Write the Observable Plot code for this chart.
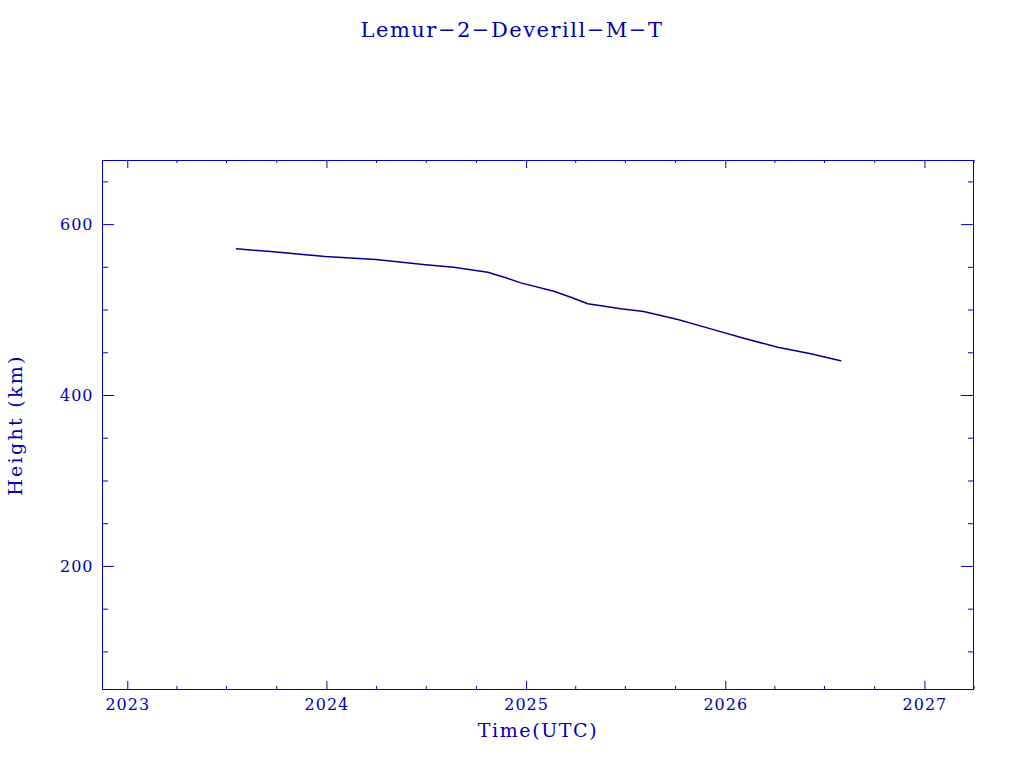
<!DOCTYPE html>
<html><head><meta charset="utf-8">
<script src="https://cdn.jsdelivr.net/npm/d3@7"></script>
<script src="https://cdn.jsdelivr.net/npm/@observablehq/plot@0.6"></script>
<style>
body{margin:0;background:#fff;}
#wrap{position:relative;width:1024px;height:768px;}
#title{position:absolute;top:18px;left:0;width:1024px;text-align:center;font-family:"DejaVu Serif";font-size:21px;line-height:normal;letter-spacing:1.5px;color:#0000b0;}
svg text{letter-spacing:1px;}
</style></head><body>
<div id="wrap"><div id="title">Lemur−2−Deverill−M−T</div></div>
<script>
const titleText = "Lemur−2−Deverill−M−T";
const xLabel = "Time(UTC)";
const yLabel = "Height (km)";

// series (decimal year, height in km)
const years   = [2023.546, 2023.717, 2023.992, 2024.245, 2024.494, 2024.635, 2024.805, 2024.888, 2024.971, 2025.137, 2025.222, 2025.307, 2025.473, 2025.588, 2025.759, 2025.925, 2026.090, 2026.261, 2026.427, 2026.577];
const heights = [571.6,    568.4,    562.6,    559.1,    552.9,    550.1,    544.2,    538.4,    531.8,    522.0,    515.0,    507.3,    501.4,    498.2,    488.9,    478.0,    467.0,    456.5,    448.8,    440.6];

// ticks
const xMajorYears = [2023, 2024, 2025, 2026, 2027];
const yMajor = [200, 400, 600];
const yMinor = [100, 150, 250, 300, 350, 450, 500, 550, 650];
const xDomainYears = [2022.873, 2027.244];
const yDomain = [56, 675];

const frameColor = "#0000c0";
const lineColor = "#00008c";

const toDate = y => { const f = Math.floor(y); const a = Date.UTC(f,0,1), b = Date.UTC(f+1,0,1); return new Date(a + (y - f) * (b - a)); };
const data = years.map((y, i) => ({date: toDate(y), h: heights[i]}));
const xMajor = xMajorYears.map(y => new Date(Date.UTC(y,0,1)));
const xMinor = d3.utcMonth.every(3).range(new Date(Date.UTC(2023,0,1)), new Date(Date.UTC(2027,6,1))).filter(d => d.getUTCMonth() !== 0);

const W = 1024, H = 768, mL = 102, mR = 51, mT = 160, mB = 79;
const IH = H - mT - mB, IW = W - mL - mR;

const chart = Plot.plot({
  width: W, height: H, marginLeft: mL, marginRight: mR, marginTop: mT, marginBottom: mB,
  style: {fontFamily: "DejaVu Serif", fontSize: "16px", color: "#0000b0", background: "#fff"},
  x: {type: "utc", domain: xDomainYears.map(toDate)},
  y: {domain: yDomain},
  marks: [
    Plot.frame({stroke: frameColor, strokeWidth: 1}),
    // bottom ticks
    Plot.ruleX(xMajor, {x: d => d, stroke: frameColor, insetTop: IH - 8}),
    Plot.ruleX(xMinor, {x: d => d, stroke: frameColor, insetTop: IH - 3}),
    // top ticks
    Plot.ruleX(xMajor, {x: d => d, stroke: frameColor, insetBottom: IH - 8}),
    Plot.ruleX(xMinor, {x: d => d, stroke: frameColor, insetBottom: IH - 3}),
    // left ticks
    Plot.ruleY(yMajor, {y: d => d, stroke: frameColor, insetRight: IW - 12}),
    Plot.ruleY(yMinor, {y: d => d, stroke: frameColor, insetRight: IW - 6}),
    // right ticks
    Plot.ruleY(yMajor, {y: d => d, stroke: frameColor, insetLeft: IW - 12}),
    Plot.ruleY(yMinor, {y: d => d, stroke: frameColor, insetLeft: IW - 5}),
    Plot.axisX({ticks: xMajor, tickSize: 0, tickPadding: 9, tickFormat: "%Y", label: null}),
    Plot.axisY({ticks: yMajor, tickSize: 0, tickPadding: 9, label: null}),
    Plot.line(data, {x: "date", y: "h", stroke: lineColor, strokeWidth: 1.5}),
    Plot.text([xLabel], {text: d => d, frameAnchor: "bottom", dy: 41, lineAnchor: "middle", textAnchor: "middle", fontSize: 19}),
    Plot.text([yLabel], {text: d => d, frameAnchor: "left", dx: -87, rotate: -90, lineAnchor: "middle", textAnchor: "middle", fontSize: 19})
  ]
});
document.getElementById("title").textContent = titleText;
document.getElementById("wrap").appendChild(chart);
d3.select(chart).selectAll("text").each(function() {
  const t = this.textContent;
  if (t === xLabel) this.style.letterSpacing = "1.6px";
  if (t === yLabel) this.style.letterSpacing = "2.3px";
});
chart.style.position = "absolute"; chart.style.left = "0"; chart.style.top = "0";
document.getElementById("title").style.zIndex = "2";
</script>
</body></html>
